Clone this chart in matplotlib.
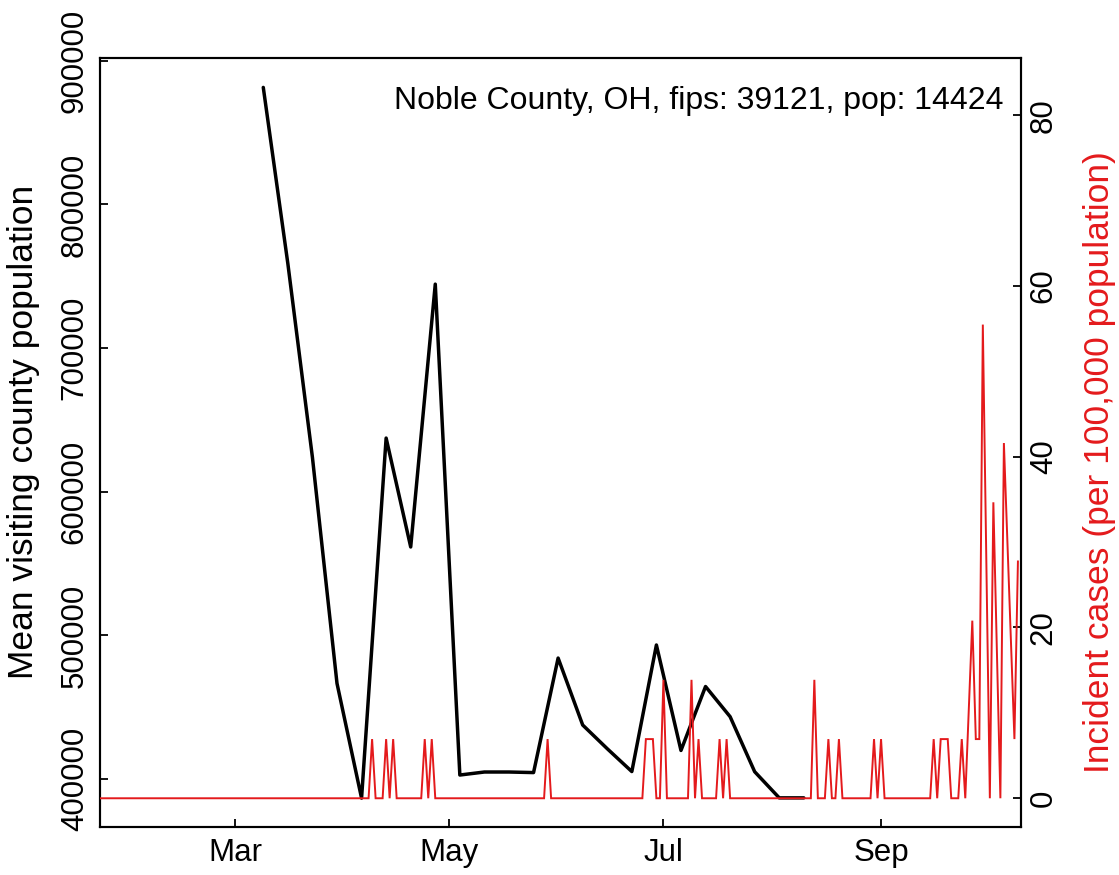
import matplotlib
matplotlib.use("Agg")
import matplotlib.pyplot as plt
import matplotlib.dates as mdates
import numpy as np
import pandas as pd

plt.rcParams['font.family'] = ['Liberation Sans', 'DejaVu Sans']

# ---- data ----
visit_dates = ["2020-03-09", "2020-03-16", "2020-03-23", "2020-03-30", "2020-04-06",
               "2020-04-13", "2020-04-20", "2020-04-27", "2020-05-04", "2020-05-11",
               "2020-05-18", "2020-05-25", "2020-06-01", "2020-06-08", "2020-06-15",
               "2020-06-22", "2020-06-29", "2020-07-06", "2020-07-13", "2020-07-20",
               "2020-07-27", "2020-08-03", "2020-08-10"]
visit_mean = [881400, 758800, 624000, 466700, 386800,
              637400, 561600, 744500, 402900, 405000,
              405000, 404600, 484300, 437700, 421200,
              405300, 493400, 420000, 464500, 443500,
              405200, 387000, 387000]

case_start = "2020-01-22"
case_end = "2020-10-10"
case_dates_nonzero = ["2020-04-09", "2020-04-13", "2020-04-15", "2020-04-24", "2020-04-26",
                      "2020-05-29", "2020-06-26", "2020-06-27", "2020-06-28", "2020-07-01",
                      "2020-07-09", "2020-07-11", "2020-07-17", "2020-07-19", "2020-08-13",
                      "2020-08-17", "2020-08-20", "2020-08-30", "2020-09-01", "2020-09-16",
                      "2020-09-18", "2020-09-19", "2020-09-20", "2020-09-24", "2020-09-26",
                      "2020-09-27", "2020-09-28", "2020-09-29", "2020-09-30", "2020-10-01",
                      "2020-10-03", "2020-10-04", "2020-10-06", "2020-10-07", "2020-10-08",
                      "2020-10-09", "2020-10-10"]
case_rate_nonzero = [6.93, 6.93, 6.93, 6.93, 6.93,
                     6.93, 6.93, 6.93, 6.93, 13.87,
                     13.87, 6.93, 6.93, 6.93, 13.87,
                     6.93, 6.93, 6.93, 6.93, 6.93,
                     6.93, 6.93, 6.93, 6.93, 10.4,
                     20.8, 6.93, 6.93, 55.47, 27.73,
                     34.66, 17.3, 41.6, 30.0, 18.5,
                     6.93, 27.73]

left_ticks = [400000, 500000, 600000, 700000, 800000, 900000]
right_ticks = [0, 20, 40, 60, 80]
month_ticks = ["2020-03-01", "2020-05-01", "2020-07-01", "2020-09-01"]
month_labels = ["Mar", "May", "Jul", "Sep"]
title_text = "Noble County, OH, fips: 39121, pop: 14424"
left_label = "Mean visiting county population"
right_label = "Incident cases (per 100,000 population)"

# ---- build series ----
vd = pd.to_datetime(visit_dates)
case_index = pd.date_range(case_start, case_end, freq="D")
case_series = pd.Series(0.0, index=case_index)
case_series.loc[pd.to_datetime(case_dates_nonzero)] = case_rate_nonzero

RED = "#E41A1C"
FS = 22.5
FS_LAB = 25.5

W, H = 1119, 875
fig = plt.figure(figsize=(W / 100, H / 100), dpi=100)
L, R_, T, B = 99.5, 1020.5, 58, 826.7
ax = fig.add_axes([L / W, 1 - B / H, (R_ - L) / W, (B - T) / H])
ax2 = ax.twinx()

ax.plot(vd, visit_mean, color="black", lw=2.5, solid_capstyle="round",
        solid_joinstyle="round", zorder=3)
ax2.plot(case_series.index, case_series.values, color=RED, lw=1.4,
         solid_joinstyle="miter", zorder=3)

m0 = mdates.date2num(pd.Timestamp("2020-03-01"))
ax.set_xlim(m0 + (L - 235.2) / 3.51, m0 + (R_ - 235.2) / 3.51)
ax.set_ylim(366940, 901880)
ax2.set_ylim(-3.33, 86.69)

ax.set_xticks(mdates.date2num(pd.to_datetime(month_ticks)))
ax.set_xticklabels(month_labels, fontsize=FS)
ax.set_yticks(left_ticks)
ax.set_yticklabels([str(v) for v in left_ticks], rotation=90, va="center", fontsize=FS)
ax2.set_yticks(right_ticks)
ax2.set_yticklabels([str(v) for v in right_ticks], rotation=90, va="center", fontsize=FS)

for a in (ax, ax2):
    for s in a.spines.values():
        s.set_linewidth(1.5)
        s.set_color("black")
ax.tick_params(axis="both", direction="in", length=6, width=1.3, pad=7, colors="black")
ax.tick_params(axis="x", pad=8)
ax2.tick_params(axis="y", direction="in", length=6, width=1.3, pad=6, colors="black")

fig.text(24 / W, 1 - 432 / H, left_label, rotation=90, ha="center", va="center",
         fontsize=FS_LAB, color="black")
fig.text(1099 / W, 1 - 462 / H, right_label, rotation=90, ha="center", va="center",
         fontsize=FS_LAB, color=RED)
fig.text(1003 / W, 1 - 109 / H, title_text, ha="right", va="baseline",
         fontsize=23, color="black")

fig.savefig("out.png", dpi=100, facecolor="white")
